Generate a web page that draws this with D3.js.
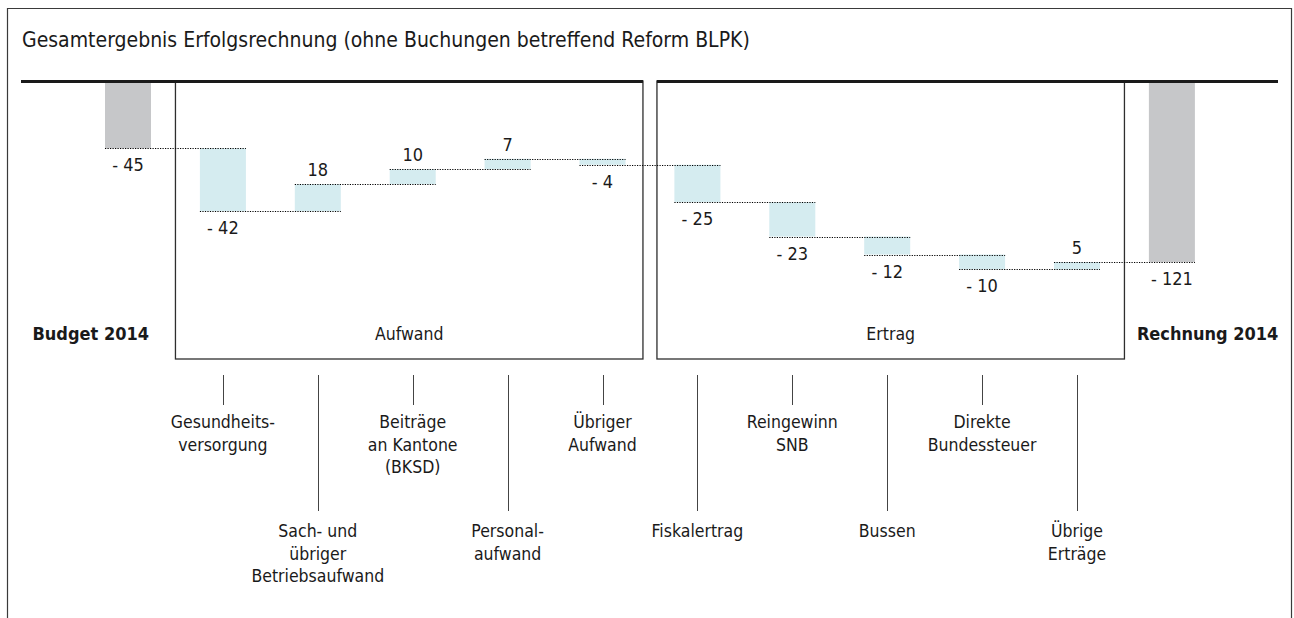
<!DOCTYPE html>
<html>
<head>
<meta charset="utf-8">
<script src="https://cdn.jsdelivr.net/npm/d3@7"></script>
<style>
  html, body { margin: 0; padding: 0; background: #fff; }
  svg { display: block; }
  text { font-family: "Liberation Sans Narrow", "DejaVu Sans Condensed", "Open Sans", sans-serif; fill: #1a1a1a; }
</style>
</head>
<body>
<svg id="chart" width="1294" height="618"></svg>
<script>
const title = "Gesamtergebnis Erfolgsrechnung (ohne Buchungen betreffend Reform BLPK)";
const categories = ["Budget 2014", "Gesundheitsversorgung", "Sach- und übriger Betriebsaufwand",
  "Beiträge an Kantone (BKSD)", "Personalaufwand", "Übriger Aufwand", "Fiskalertrag",
  "Reingewinn SNB", "Bussen", "Direkte Bundessteuer", "Übrige Erträge", "Rechnung 2014"];
const values = [-45, -42, 18, 10, 7, -4, -25, -23, -12, -10, 5, -121];
const totalFlags = [true, false, false, false, false, false, false, false, false, false, false, true];
const categoryLines = [
  null,
  ["Gesundheits-", "versorgung"],
  ["Sach- und", "übriger", "Betriebsaufwand"],
  ["Beiträge", "an Kantone", "(BKSD)"],
  ["Personal-", "aufwand"],
  ["Übriger", "Aufwand"],
  ["Fiskalertrag"],
  ["Reingewinn", "SNB"],
  ["Bussen"],
  ["Direkte", "Bundessteuer"],
  ["Übrige", "Erträge"],
  null
];
const groupNames = ["Aufwand", "Ertrag"];
const groupRanges = [[1, 5], [6, 10]];

const svg = d3.select("#chart");

// frame
svg.append("path")
  .attr("d", "M7.5,618 L7.5,8.5 L1291.5,8.5 L1291.5,618")
  .attr("fill", "none").attr("stroke", "#3a3a3a").attr("stroke-width", 1.2);

svg.append("text").attr("x", 22).attr("y", 47)
  .attr("font-size", 21).text(title);

const x = d3.scaleBand().domain(categories)
  .range([105, 1194.9]).paddingInner(0.5152).paddingOuter(0);
const bw = x.bandwidth();
const y = d3.scaleLinear().domain([0, -121]).range([81, 262]);

// compute waterfall segments
let cum = 0;
const segs = values.map((v, i) => {
  let s, e;
  if (totalFlags[i]) { s = 0; e = v; cum = v; }
  else { s = cum; e = cum + v; cum = e; }
  return { cat: categories[i], v, s, e, total: totalFlags[i], i };
});

const cx = i => x(categories[i]) + bw / 2;

// group boxes
groupRanges.forEach((r, gi) => {
  const mL = (x(categories[r[0] - 1]) + bw + x(categories[r[0]])) / 2;
  const mR = (x(categories[r[1]]) + bw + x(categories[r[1] + 1])) / 2;
  const left = gi === 0 ? mL : mL + 7;
  const right = gi === 0 ? mR - 7 : mR;
  svg.append("rect").attr("x", left).attr("y", 81).attr("width", right - left).attr("height", 278)
    .attr("fill", "none").attr("stroke", "#2e2e2e").attr("stroke-width", 1.3);
  svg.append("text").attr("x", (left + right) / 2).attr("y", 340)
    .attr("text-anchor", "middle").attr("font-size", 17.5).text(groupNames[gi]);
});

// bars
svg.selectAll("rect.bar").data(segs).enter().append("rect")
  .attr("class", "bar")
  .attr("x", d => x(d.cat))
  .attr("width", bw)
  .attr("y", d => Math.min(y(d.s), y(d.e)))
  .attr("height", d => Math.abs(y(d.s) - y(d.e)))
  .attr("fill", d => d.total ? "#c6c7c9" : "#d5ecf0");

// axis line (split at gap between boxes)
const gapMid = (x(categories[5]) + bw + x(categories[6])) / 2;
svg.append("line").attr("x1", 21).attr("x2", gapMid - 7).attr("y1", 81.5).attr("y2", 81.5)
  .attr("stroke", "#1a1a1a").attr("stroke-width", 3);
svg.append("line").attr("x1", gapMid + 7).attr("x2", 1278).attr("y1", 81.5).attr("y2", 81.5)
  .attr("stroke", "#1a1a1a").attr("stroke-width", 3);

// dotted connectors
segs.slice(0, -1).forEach((d, i) => {
  svg.append("line")
    .attr("x1", x(d.cat)).attr("x2", x(categories[i + 1]) + bw)
    .attr("y1", Math.round(y(d.e)) + 0.5).attr("y2", Math.round(y(d.e)) + 0.5)
    .attr("stroke", "#000").attr("stroke-width", 1.2).attr("stroke-dasharray", "1.2,1.3");
});

// value labels
const fmt = v => v < 0 ? "- " + Math.abs(v) : String(v);
svg.selectAll("text.val").data(segs).enter().append("text")
  .attr("class", "val")
  .attr("x", d => cx(d.i))
  .attr("y", d => d.v < 0 ? y(d.e) + 23 : y(d.e) - 8)
  .attr("text-anchor", "middle").attr("font-size", 18)
  .text(d => fmt(d.v));

// total labels
svg.append("text").attr("x", x(categories[0]) + bw - 2).attr("y", 340)
  .attr("text-anchor", "end").attr("font-size", 18).attr("font-weight", "bold").text(categories[0]);
svg.append("text").attr("x", x(categories[11]) - 12).attr("y", 340)
  .attr("text-anchor", "start").attr("font-size", 18).attr("font-weight", "bold").text(categories[11]);

// leader lines and category labels
categoryLines.forEach((lines, i) => {
  if (!lines) return;
  const long = i % 2 === 0;
  const x0 = Math.round(cx(i)) + 0.5;
  svg.append("line").attr("x1", x0).attr("x2", x0).attr("y1", 375).attr("y2", long ? 511 : 405)
    .attr("stroke", "#444").attr("stroke-width", 1);
  const t = svg.append("text").attr("text-anchor", "middle").attr("font-size", 17.5);
  const base = long ? 537 : 428;
  lines.forEach((ln, k) => {
    t.append("tspan").attr("x", cx(i)).attr("y", base + k * 22.5).text(ln);
  });
});
</script>
</body>
</html>
